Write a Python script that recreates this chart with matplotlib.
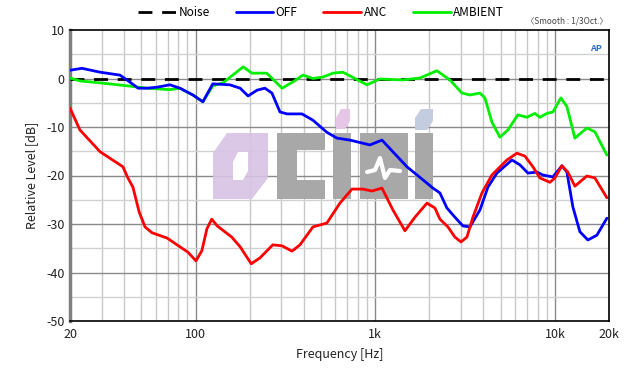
import matplotlib
matplotlib.use("Agg")
import matplotlib.pyplot as plt
from matplotlib.patches import Polygon, Rectangle
from matplotlib.ticker import FixedLocator, NullFormatter

plt.rcParams['font.family'] = ['Noto Sans CJK KR', 'DejaVu Sans']
plt.rcParams['axes.unicode_minus'] = False

# ---- data ----
noise_freq = [20, 20000]
noise_db = [0, 0]

off_freq = [20, 23.3, 29.4, 37.9, 41.5, 47.9, 53.7, 60.9, 72.0, 81.8, 96.6, 109.8,
            124.7, 155, 177, 196, 220, 243, 266, 295, 323, 391, 450, 538, 613,
            723, 934, 1090, 1501, 1843, 2094, 2291, 2506, 2776, 3076, 3365, 3825,
            4238, 4755, 5763, 6385, 7074, 7940, 8573, 9746, 10937, 11661, 12593,
            13775, 15261, 17128, 19471]
off_db = [1.7, 2.1, 1.3, 0.7, -0.3, -2.0, -2.0, -1.8, -1.3, -2.0, -3.4, -4.8,
          -1.1, -1.3, -2.0, -3.6, -2.4, -2.0, -3.0, -6.9, -7.3, -7.3, -8.6, -11.1, -12.3,
          -12.7, -13.7, -12.7, -18.2, -20.9, -22.6, -23.6, -26.7, -28.6, -30.4, -30.6, -27.1,
          -22.4, -19.5, -16.8, -17.8, -19.5, -19.3, -19.9, -20.3, -18.0, -19.3, -26.5,
          -31.6, -33.3, -32.3, -28.8]

anc_freq = [20, 22.7, 29.4, 39.4, 42.0, 44.8, 48.5, 52.3, 57.2, 69.4, 81.8, 90.6,
            100.5, 108.4, 115.6, 123, 132, 159, 177, 204, 228, 269, 303, 344,
            381, 450, 538, 636, 742, 854, 958, 1090, 1254, 1463, 1663, 1940, 2148,
            2291, 2538, 2776, 2998, 3238, 3497, 3925, 4460, 5406, 6144, 6807, 7543,
            8250, 9378, 10000, 10937, 11800, 12918, 15069, 16692, 19471]
anc_db = [-6.1, -10.6, -15.1, -18.2, -20.5, -22.4, -27.5, -30.6, -31.8, -32.9, -34.7, -35.8,
          -37.6, -35.5, -31.0, -29.0, -30.4, -32.7, -34.7, -38.2, -37.0, -34.3, -34.5, -35.6,
          -34.3, -30.6, -29.8, -25.7, -22.8, -22.8, -23.2, -22.6, -27.1, -31.4, -28.6, -25.7, -26.7,
          -29.0, -30.6, -32.7, -33.7, -32.7, -28.6, -23.6, -19.9, -16.8, -15.4, -16.0, -18.2,
          -20.5, -21.4, -20.5, -18.0, -19.3, -22.2, -20.1, -20.5, -24.6]

amb_freq = [20, 22.7, 29.4, 41.5, 53.7, 72.0, 81.8, 96.6, 109.8, 124.7, 142, 161,
            184, 206, 249, 303, 348, 396, 450, 511, 582, 661, 899, 1062, 1426,
            1773, 2204, 2604, 3037, 3365, 3825, 4077, 4460, 4942, 5476, 6223, 6985,
            7737, 8250, 9025, 9746, 10797, 11661, 12918, 15069, 16692, 19471]
amb_db = [0.1, -0.5, -0.9, -1.5, -2.0, -2.3, -2.0, -3.4, -4.8, -1.5, -0.9, 0.7,
          2.4, 1.1, 1.1, -2.0, -0.7, 0.7, 0.0, 0.3, 1.1, 1.3, -1.3, -0.1, -0.3,
          0.1, 1.6, -0.3, -3.0, -3.4, -3.0, -4.0, -9.0, -12.1, -10.6, -7.5, -8.0,
          -7.2, -8.0, -7.2, -6.9, -4.0, -5.8, -12.3, -10.2, -11.0, -15.8]

x_ticks = [20, 100, 1000, 10000, 20000]
x_labels = ['20', '100', '1k', '10k', '20k']
y_ticks = [10, 0, -10, -20, -30, -40, -50]

# ---- figure ----
fig = plt.figure(figsize=(6.42, 3.68), dpi=100)
ax = fig.add_axes([70/642, 47/368, 539/642, 291/368])
ax.set_xscale('log')
ax.set_xlim(20, 20000)
ax.set_ylim(-50, 10)

# grid
minor_x = [m * 10**e for e in range(1, 5) for m in range(2, 10) if 20 <= m * 10**e <= 20000]
for f in minor_x:
    ax.axvline(f, color='#c8c8c8', lw=1.0, zorder=0)
for f in (100, 1000, 10000):
    ax.axvline(f, color='#8a8a8a', lw=1.0, zorder=0)
for y in range(-45, 10, 5):
    ax.axhline(y, color='#8a8a8a' if y % 10 == 0 else '#d2d2d2', lw=1.0, zorder=0)

# watermark (axes-fraction coords from pixel layout)
def P(x, y):
    return ((x - 70) / 539.0, (321 - y) / 291.0)

T = ax.transAxes
ax.add_patch(Polygon([P(213, 153), P(227, 133), P(268, 133), P(268, 178), P(252, 199), P(213, 199)],
                     closed=True, transform=T, facecolor='#d8c2e4', edgecolor='none', alpha=0.9, zorder=1))
ax.add_patch(Polygon([P(233, 162), P(238, 152), P(248, 152), P(248, 171), P(243, 180), P(233, 180)],
                     closed=True, transform=T, facecolor='white', edgecolor='none', zorder=1.1))
gray = '#a8a8a8'
for (x0, y0, x1, y1) in [(277, 133, 297, 199), (277, 133, 325, 150), (277, 180, 325, 199),
                         (333, 133, 351, 199), (360, 133, 408, 199), (415, 133, 433, 199)]:
    a = P(x0, y1)
    b = P(x1, y0)
    ax.add_patch(Rectangle(a, b[0] - a[0], b[1] - a[1], transform=T, facecolor=gray,
                           edgecolor='none', zorder=1))
ax.add_patch(Polygon([P(336, 118), P(341, 109), P(350, 109), P(350, 121), P(345, 129), P(336, 129)],
                     closed=True, transform=T, facecolor='#e6c6e6', edgecolor='none', zorder=1))
ax.add_patch(Polygon([P(415, 118), P(421, 109), P(433, 109), P(433, 121), P(427, 130), P(415, 130)],
                     closed=True, transform=T, facecolor='#c4cce0', edgecolor='none', zorder=1))
wave = [P(367, 172), P(375, 170), P(380, 158), P(385, 178), P(390, 170), P(400, 171)]
ax.plot([w[0] for w in wave], [w[1] for w in wave], transform=T, color='white', lw=3,
        solid_capstyle='round', zorder=1.2)

# curves
kw = dict(lw=2, solid_joinstyle='round', solid_capstyle='round')
ax.plot(noise_freq, noise_db, color='black', lw=2, dashes=(5, 3.5), label='Noise', zorder=3)
ax.plot(off_freq, off_db, color='#0000ff', label='OFF', zorder=4, **kw)
ax.plot(anc_freq, anc_db, color='#ff0000', label='ANC', zorder=5, **kw)
ax.plot(amb_freq, amb_db, color='#00ee00', label='AMBIENT', zorder=3.5, **kw)

# ticks
ax.xaxis.set_major_locator(FixedLocator(x_ticks))
ax.set_xticklabels(x_labels)
ax.xaxis.set_minor_formatter(NullFormatter())
ax.xaxis.set_minor_locator(FixedLocator([]))
ax.set_yticks(y_ticks)
ax.tick_params(axis='both', length=0, labelsize=9, colors='#222222', pad=4)
ax.tick_params(axis='x', pad=5)

for s in ('top', 'right', 'bottom'):
    ax.spines[s].set_color('black')
    ax.spines[s].set_linewidth(1.2)
ax.spines['left'].set_color('#808080')
ax.spines['left'].set_linewidth(2.5)

ax.set_xlabel('Frequency [Hz]', fontsize=9, color='#222222', labelpad=5)
ax.set_ylabel('Relative Level [dB]', fontsize=9, color='#222222', labelpad=6)

fig.legend(loc='center', bbox_to_anchor=(0.5, 1 - 13/368), ncol=4, frameon=False,
           fontsize=8.5, handlelength=3.2, handletextpad=0.2, columnspacing=2.2)

fig.text(608/642, 1 - 21/368, '〈Smooth : 1/3Oct.〉', ha='right', va='center', fontsize=6,
         color='#444444')
ax.text(0.975, 0.935, 'AP', transform=T, ha='center', va='center', fontsize=6.5,
        color='#3070c0', style='italic', fontweight='bold')

fig.savefig('out.png', dpi=100)
